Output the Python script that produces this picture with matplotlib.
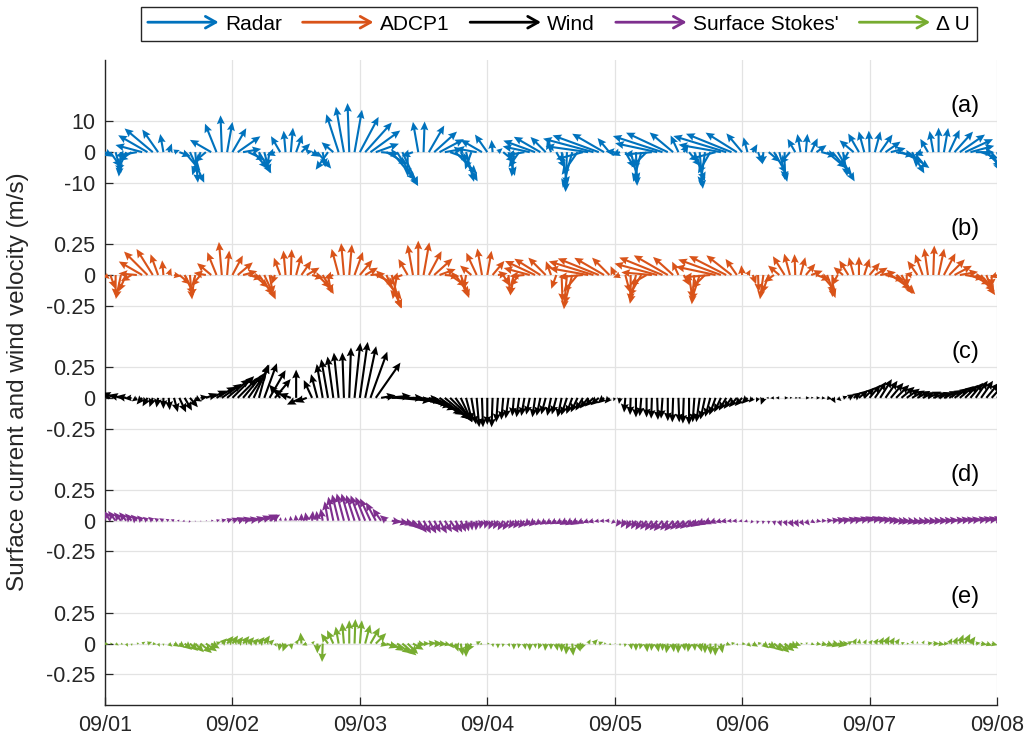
import numpy as np
import matplotlib
matplotlib.use("Agg")
import matplotlib.pyplot as plt
from matplotlib.patches import Patch, FancyArrowPatch
from matplotlib.legend_handler import HandlerBase

plt.rcParams['font.family'] = ['Liberation Sans', 'DejaVu Sans']

# ---------------------------------------------------------------- data
day_labels = ['09/01', '09/02', '09/03', '09/04', '09/05', '09/06', '09/07', '09/08']
hours_per_day = 24
n_hours = 169  # hourly samples 09/01 00:00 .. 09/08 00:00

# direction: degrees counter-clockwise from east; speed in plotted units
radar_dir = [
    330, 305, 285, 265, 245, 215, 190, 165, 150, 140, 125, 100, 70, 20, 340, 310, 295, 275, 250, 220, 150, 112, 92, 80,
    60, 35, 10, 335, 310, 300, 285, 260, 200, 120, 95, 85, 70, 45, 10, 330, 310, 280, 235, 140, 108, 100, 92, 80,
    62, 48, 36, 20, 355, 330, 310, 302, 295, 270, 200, 100, 88, 60, 42, 28, 10, 340, 315, 300, 285, 250, 170, 150,
    125, 95, 40, 320, 285, 265, 235, 190, 168, 160, 150, 135, 110, 300, 280, 268, 255, 235, 195, 172, 165, 160, 150, 130,
    175, 200, 300, 285, 272, 255, 225, 185, 168, 162, 155, 140, 115, 60, 310, 290, 275, 262, 240, 195, 170, 163, 158, 148,
    130, 105, 60, 290, 265, 320, 300, 285, 270, 230, 120, 100, 85, 65, 35, 345, 320, 310, 300, 280, 240, 140, 120, 105,
    92, 75, 55, 35, 15, 350, 335, 325, 300, 265, 200, 120, 100, 90, 80, 65, 48, 35, 25, 15, 0, 340, 315, 295,
    290]
radar_spd = [
    3, 6, 7, 8, 7, 5, 7, 9, 11, 12, 9, 6, 3, 2, 4, 8, 11, 10, 8, 5, 8, 10, 12, 10,
    9, 9, 6, 6, 7, 8, 7, 5, 3, 6, 7, 8, 6, 4, 2, 3, 7, 5, 7, 5, 13, 15, 16, 14,
    13, 13, 12, 8, 6, 8, 12, 13, 12, 8, 4, 10, 10, 10, 10, 9, 6, 7, 10, 11, 10, 6, 7, 8,
    7, 4, 2, 5, 8, 8, 6, 6, 9, 11, 10, 7, 4, 6, 11, 13, 12, 9, 9, 14, 17, 16, 12, 6,
    3, 3, 6, 10, 11, 10, 7, 9, 14, 17, 15, 10, 6, 3, 6, 10, 12, 11, 8, 9, 14, 18, 16, 12,
    8, 5, 3, 4, 4, 5, 8, 10, 9, 5, 5, 6, 6, 5, 4, 5, 8, 10, 11, 8, 4, 6, 7, 7,
    7, 7, 7, 6, 5, 6, 8, 9, 8, 5, 3, 5, 7, 8, 8, 8, 9, 10, 10, 8, 6, 6, 7, 7,
    5]

adcp_dir = [
    320, 290, 270, 258, 245, 210, 175, 150, 135, 122, 110, 95, 70, 350, 320, 295, 275, 260, 230, 170, 140, 112, 95, 85,
    62, 40, 15, 345, 320, 305, 295, 280, 250, 110, 95, 88, 75, 55, 30, 345, 315, 300, 280, 200, 105, 95, 85, 70,
    50, 30, 5, 335, 310, 295, 285, 260, 200, 120, 100, 90, 80, 62, 42, 20, 355, 325, 305, 290, 260, 140, 115, 100,
    80, 50, 10, 300, 275, 260, 230, 185, 165, 155, 148, 135, 110, 250, 272, 265, 255, 230, 185, 170, 163, 158, 150, 135,
    115, 200, 285, 270, 258, 240, 210, 175, 165, 158, 150, 138, 115, 300, 278, 265, 252, 225, 185, 168, 160, 153, 142, 125,
    95, 60, 290, 272, 262, 250, 215, 140, 122, 105, 92, 75, 50, 20, 340, 310, 290, 270, 240, 140, 122, 105, 90, 72,
    50, 30, 10, 345, 325, 315, 300, 270, 170, 125, 110, 98, 88, 78, 62, 45, 28, 10, 350, 335, 320, 305, 290, 270,
    200]
adcp_spd = [
    .05, .12, .18, .20, .15, .10, .15, .22, .27, .25, .18, .12, .06, .06, .12, .18, .20, .18, .12, .10, .15, .20, .27, .20,
    .18, .16, .12, .12, .16, .20, .22, .16, .08, .15, .20, .21, .17, .14, .12, .10, .15, .18, .15, .08, .22, .26, .25, .20,
    .16, .12, .12, .18, .26, .30, .28, .20, .10, .15, .25, .28, .27, .22, .20, .14, .12, .16, .20, .20, .12, .12, .20, .22,
    .20, .15, .08, .10, .16, .17, .12, .12, .22, .27, .25, .20, .12, .12, .22, .28, .25, .18, .20, .32, .38, .36, .28, .20,
    .08, .06, .15, .22, .24, .20, .16, .25, .36, .38, .32, .22, .12, .10, .20, .24, .22, .15, .22, .33, .37, .34, .26, .16,
    .08, .05, .08, .14, .20, .16, .10, .12, .18, .18, .17, .15, .12, .10, .12, .18, .20, .18, .10, .10, .14, .15, .15, .14,
    .13, .12, .13, .16, .20, .22, .18, .10, .06, .14, .18, .22, .24, .22, .20, .18, .16, .15, .16, .18, .20, .20, .16, .10,
    .06]

wind_dir = [
    170, 165, 160, 165, 170, 185, 215, 230, 240, 250, 260, 270, 275, 285, 295, 300, 310, 330, 10, 20, 25, 30, 35, 40,
    45, 45, 50, 55, 65, 75, 70, 60, 50, 130, 145, 160, 90, 205, 200, 115, 105, 100, 100, 98, 96, 92, 88, 84,
    82, 78, 70, 55, 10, 5, 0, 355, 358, 355, 350, 345, 340, 335, 330, 325, 320, 315, 305, 295, 285, 280, 275, 272,
    270, 268, 266, 265, 262, 265, 262, 260, 258, 262, 258, 255, 258, 255, 258, 252, 250, 245, 240, 232, 225, 222, 220, 230,
    250, 260, 265, 268, 270, 265, 270, 268, 272, 266, 270, 268, 272, 268, 270, 266, 262, 258, 255, 250, 245, 240, 235, 230,
    228, 225, 230, 245, 250, 180, 185, 180, 0, 5, 0, 180, 0, 10, 0, 355, 350, 300, 320, 20, 30, 35, 40, 45,
    50, 55, 58, 55, 50, 45, 40, 35, 30, 28, 25, 25, 20, 22, 25, 30, 35, 40, 45, 50, 55, 55, 50, 48,
    45]
wind_spd = [
    .10, .12, .12, .10, .08, .06, .05, .07, .08, .08, .08, .09, .10, .12, .13, .12, .10, .06, .06, .10, .14, .18, .20, .24,
    .25, .22, .24, .26, .30, .28, .30, .26, .20, .14, .12, .10, .23, .13, .10, .16, .20, .28, .32, .34, .37, .37, .41, .45,
    .46, .43, .40, .35, .12, .20, .26, .28, .30, .28, .30, .28, .28, .30, .28, .30, .28, .26, .24, .22, .20, .22, .24, .24,
    .22, .24, .20, .18, .17, .15, .16, .15, .14, .16, .15, .14, .15, .14, .16, .15, .14, .13, .12, .11, .10, .09, .07, .06,
    .03, .05, .12, .14, .16, .15, .16, .17, .18, .17, .19, .20, .20, .21, .22, .20, .20, .18, .16, .15, .13, .12, .11, .10,
    .09, .07, .05, .04, .06, .02, .03, .03, .03, .02, .02, .02, .03, .02, .03, .03, .04, .05, .04, .04, .06, .08, .10, .12,
    .14, .16, .18, .17, .16, .15, .14, .13, .12, .12, .11, .12, .12, .12, .13, .13, .14, .15, .15, .16, .17, .17, .16, .16,
    .15]

stokes_dir = [
    125, 125, 128, 130, 130, 132, 135, 135, 140, 140, 145, 150, 150, 160, 170, 200, 240, 270, 300, 0, 10, 15, 15, 18,
    20, 20, 15, 12, 15, 20, 25, 30, 60, 80, 90, 95, 95, 90, 100, 85, 95, 100, 100, 102, 104, 105, 106, 108,
    110, 112, 115, 118, 125, 140, 350, 345, 340, 325, 315, 305, 300, 300, 298, 300, 302, 305, 300, 295, 285, 275, 265, 255,
    250, 245, 240, 240, 238, 235, 232, 230, 225, 222, 220, 215, 212, 210, 208, 210, 212, 210, 205, 200, 195, 190, 185, 180,
    220, 235, 238, 240, 240, 238, 235, 235, 232, 230, 232, 230, 228, 225, 222, 220, 215, 210, 205, 200, 195, 190, 185, 185,
    190, 200, 230, 250, 260, 270, 280, 290, 295, 300, 300, 305, 310, 330, 350, 0, 5, 8, 10, 12, 12, 15, 15, 18,
    15, 12, 8, 5, 0, 355, 355, 352, 350, 352, 355, 355, 358, 0, 2, 5, 5, 8, 8, 10, 10, 12, 12, 15,
    15]
stokes_spd = [
    .10, .10, .10, .09, .09, .08, .07, .06, .05, .05, .04, .04, .03, .03, .02, .02, .02, .01, .01, .01, .02, .03, .04, .05,
    .06, .07, .08, .09, .10, .11, .12, .10, .04, .03, .03, .04, .05, .06, .07, .08, .08, .10, .16, .20, .22, .23, .23, .22,
    .22, .21, .20, .17, .12, .07, .08, .10, .10, .10, .11, .12, .12, .12, .11, .12, .11, .12, .11, .10, .09, .08, .08, .07,
    .07, .08, .08, .09, .09, .08, .08, .08, .07, .07, .06, .06, .06, .06, .06, .07, .07, .07, .06, .05, .05, .04, .04, .04,
    .04, .06, .07, .08, .08, .09, .09, .10, .10, .11, .10, .11, .10, .10, .10, .09, .09, .08, .07, .06, .05, .05, .04, .04,
    .03, .03, .03, .03, .03, .03, .04, .05, .05, .06, .06, .05, .05, .04, .04, .04, .05, .06, .07, .07, .08, .08, .09, .09,
    .10, .10, .10, .10, .09, .09, .08, .08, .08, .08, .08, .08, .08, .08, .08, .08, .09, .09, .09, .09, .10, .10, .10, .10,
    .10]

du_dir = [
    350, 0, 330, 340, 300, 280, 10, 30, 20, 350, 300, 270, 320, 330, 325, 320, 318, 315, 320, 325, 330, 20, 45, 50,
    55, 52, 50, 48, 45, 50, 55, 40, 300, 260, 250, 280, 60, 95, 200, 45, 270, 268, 125, 115, 100, 95, 90, 88,
    85, 75, 60, 45, 345, 340, 330, 325, 320, 315, 330, 350, 0, 5, 0, 355, 345, 310, 290, 280, 270, 240, 30, 200,
    0, 280, 270, 260, 290, 270, 260, 280, 270, 275, 250, 265, 270, 280, 270, 265, 275, 290, 250, 60, 45, 20, 10, 320,
    0, 270, 260, 280, 270, 255, 275, 265, 280, 270, 260, 275, 268, 280, 262, 275, 285, 270, 272, 268, 280, 340, 10, 300,
    350, 320, 330, 10, 320, 325, 320, 318, 322, 330, 340, 0, 20, 340, 350, 345, 340, 345, 350, 0, 30, 60, 80, 60,
    50, 55, 60, 62, 58, 55, 20, 0, 70, 90, 60, 10, 0, 350, 0, 60, 65, 68, 62, 55, 10, 350, 340, 345,
    0]
du_spd = [
    .03, .02, .03, .02, .03, .02, .02, .03, .04, .03, .03, .02, .04, .05, .06, .08, .09, .10, .12, .11, .08, .04, .06, .08,
    .08, .07, .08, .07, .06, .07, .08, .05, .03, .06, .07, .05, .04, .09, .04, .03, .08, .15, .10, .12, .14, .17, .19, .20,
    .19, .16, .15, .12, .06, .10, .12, .14, .15, .12, .10, .06, .05, .06, .07, .06, .05, .05, .07, .10, .11, .08, .04, .02,
    .02, .03, .04, .03, .03, .05, .04, .05, .06, .04, .05, .06, .05, .06, .07, .09, .10, .07, .06, .04, .05, .04, .02, .02,
    .01, .02, .03, .05, .06, .05, .07, .06, .07, .06, .08, .07, .08, .06, .07, .06, .07, .08, .09, .10, .08, .04, .03, .02,
    .03, .04, .05, .03, .06, .08, .10, .11, .10, .08, .05, .02, .02, .03, .04, .05, .06, .07, .08, .05, .04, .05, .04, .04,
    .04, .05, .06, .07, .06, .05, .03, .02, .03, .02, .03, .04, .05, .05, .04, .05, .06, .08, .09, .07, .04, .05, .05, .05,
    .04]

series_names = ['Radar', 'ADCP1', 'Wind', "Surface Stokes'", '\u0394 U']
series_colors = ['#0072BD', '#D95319', '#000000', '#7E2F8E', '#77AC30']
panel_tags = ['(a)', '(b)', '(c)', '(d)', '(e)']
panel_offsets = [16, 12, 8, 4, 0]          # baseline of each stick row
panel_units = [10.0, 0.25, 0.25, 0.25, 0.25]  # value of one tick step
panel_ticklabels = [['-10', '0', '10']] + [['-0.25', '0', '0.25']] * 4

directions = [radar_dir, adcp_dir, wind_dir, stokes_dir, du_dir]
speeds = [radar_spd, adcp_spd, wind_spd, stokes_spd, du_spd]

# ---------------------------------------------------------------- figure
fig = plt.figure(figsize=(10.30, 7.45), dpi=100)
ax = fig.add_axes([105 / 1030, 40 / 745, 892 / 1030, 645 / 745])

t = np.arange(n_hours) / hours_per_day

for d, s, color, y0, unit in zip(directions, speeds, series_colors,
                                 panel_offsets, panel_units):
    d = np.radians(np.asarray(d, dtype=float))
    s = np.asarray(s, dtype=float)
    u = s * np.cos(d)
    v = s * np.sin(d)
    ax.quiver(t, np.full(n_hours, y0, dtype=float), u, v, color=color,
              angles='uv', scale_units='y', scale=unit,
              units='dots', width=2.1, headwidth=3.8, headlength=4.2,
              headaxislength=3.7, minshaft=1, minlength=0.4, zorder=3)

for tag, y0 in zip(panel_tags, panel_offsets):
    ax.text(6.75, y0 + 1.5, tag, ha='center', va='center', fontsize=17,
            color='#000000')

yticks, ylabels = [], []
for y0, labs in zip(panel_offsets, panel_ticklabels):
    yticks += [y0 - 1, y0, y0 + 1]
    ylabels += labs

ax.set_xlim(0, 7)
ax.set_ylim(-2, 19)
ax.set_xticks(np.arange(len(day_labels)))
ax.set_xticklabels(day_labels)
ax.set_yticks(yticks)
ax.set_yticklabels(ylabels)

ax.grid(True, color='#e3e3e3', linewidth=0.9, zorder=0)
ax.set_axisbelow(True)
for side in ('top', 'right'):
    ax.spines[side].set_visible(False)
for side in ('left', 'bottom'):
    ax.spines[side].set_color('#262626')
    ax.spines[side].set_linewidth(1.0)
ax.tick_params(direction='in', length=6, width=0.9, colors='#262626',
               labelsize=15.5, labelcolor='#262626')
ax.tick_params(axis='x', pad=7)
ax.tick_params(axis='y', pad=7)

fig.text(18 / 1030, 1 - 382 / 745, 'Surface current and wind velocity (m/s)',
         rotation=90, ha='center', va='center', fontsize=17.5, color='#262626')


class ArrowLegendHandler(HandlerBase):
    def create_artists(self, legend, orig_handle, xdescent, ydescent,
                       width, height, fontsize, trans):
        y = height / 2.0 - ydescent
        arrow = FancyArrowPatch((-xdescent, y), (-xdescent + width, y),
                                arrowstyle='->,head_length=0.5,head_width=0.28',
                                mutation_scale=fontsize, lw=2.0,
                                color=orig_handle.get_facecolor(),
                                shrinkA=0, shrinkB=0, transform=trans)
        return [arrow]


handles = [Patch(facecolor=c, edgecolor=c, label=nm)
           for nm, c in zip(series_names, series_colors)]
leg = fig.legend(handles=handles, loc='center',
                 bbox_to_anchor=(559 / 1030, 1 - 24 / 745),
                 ncol=5, fontsize=15, frameon=True, fancybox=False,
                 edgecolor='#262626', framealpha=1,
                 handlelength=3.4, handletextpad=0.3, columnspacing=1.0,
                 borderpad=0.35, handler_map={Patch: ArrowLegendHandler()})
leg.get_frame().set_linewidth(1.0)

fig.savefig('out.png', dpi=100)
